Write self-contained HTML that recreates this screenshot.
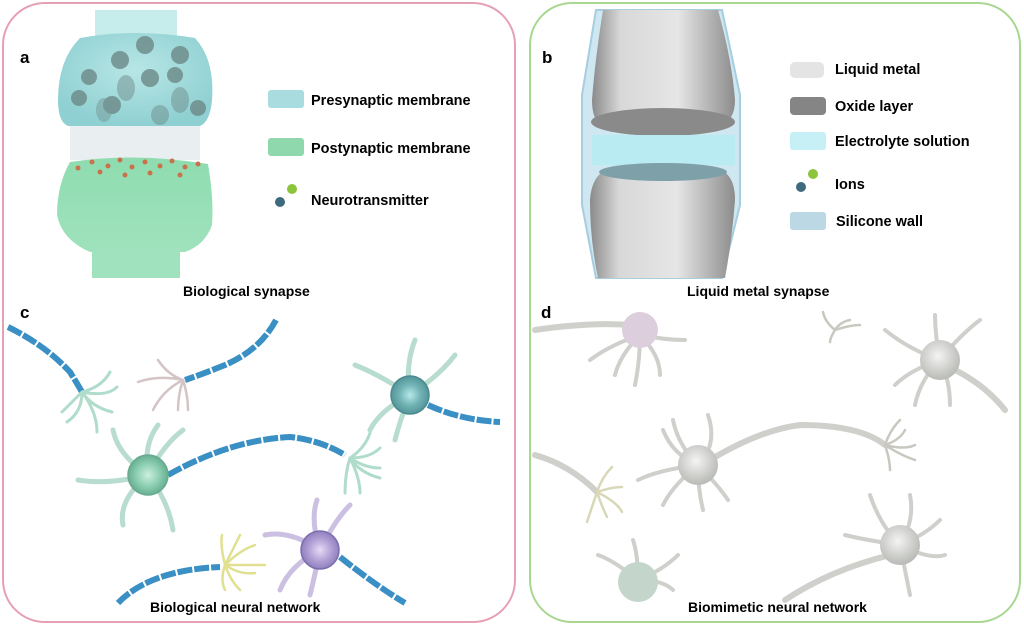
<!DOCTYPE html>
<html><head><style>
body{margin:0;background:#fff;width:1024px;height:630px;overflow:hidden;font-family:"Liberation Sans",Arial,sans-serif}
</style></head><body>
<svg width="1024" height="630" xmlns="http://www.w3.org/2000/svg" font-family="Liberation Sans, Arial, sans-serif" font-weight="bold">
<defs>
<radialGradient id="cyan" cx="50%" cy="40%" r="60%"><stop offset="0" stop-color="#b8e6e6"/><stop offset="1" stop-color="#8fd0d2"/></radialGradient>
<linearGradient id="grn" x1="0" y1="0" x2="0" y2="1"><stop offset="0" stop-color="#8fdcb0"/><stop offset="1" stop-color="#9fe2bd"/></linearGradient>
<linearGradient id="metal" x1="0" y1="0" x2="1" y2="0"><stop offset="0" stop-color="#8a8a8a"/><stop offset=".2" stop-color="#d8d8d8"/><stop offset=".6" stop-color="#e6e6e6"/><stop offset="1" stop-color="#8c8c8c"/></linearGradient>
<radialGradient id="soma" cx="50%" cy="50%" r="55%"><stop offset="0" stop-color="#cdeee0"/><stop offset=".5" stop-color="#8fd0b4"/><stop offset="1" stop-color="#5fa88a"/></radialGradient>
<radialGradient id="somaT" cx="50%" cy="50%" r="55%"><stop offset="0" stop-color="#b8e8e8"/><stop offset=".5" stop-color="#72b4b6"/><stop offset="1" stop-color="#4d8e92"/></radialGradient>
<radialGradient id="somaP" cx="50%" cy="50%" r="55%"><stop offset="0" stop-color="#e4dcf4"/><stop offset=".5" stop-color="#b4a4d8"/><stop offset="1" stop-color="#8878b8"/></radialGradient>
<radialGradient id="somaG" cx="45%" cy="40%" r="60%"><stop offset="0" stop-color="#f4f4f2"/><stop offset="1" stop-color="#b8bab6"/></radialGradient>
</defs>
<rect x="3" y="3" width="512" height="619" rx="42" fill="none" stroke="#e6a0b4" stroke-width="2"/>
<rect x="530" y="3" width="490" height="619" rx="42" fill="none" stroke="#a8d890" stroke-width="2"/>

<!-- panel a -->
<rect x="95" y="10" width="82" height="30" fill="#c6ecec"/>
<path d="M80 38 Q135 28 195 38 Q215 60 212 100 Q210 122 200 126 L68 126 Q58 122 58 100 Q58 60 80 38Z" fill="url(#cyan)"/>
<g fill="#6f8e8c" opacity=".85">
<circle cx="145" cy="45" r="9"/><circle cx="120" cy="60" r="9"/><circle cx="180" cy="55" r="9"/><circle cx="89" cy="77" r="8"/><circle cx="150" cy="78" r="9"/><circle cx="175" cy="75" r="8"/><circle cx="79" cy="98" r="8"/><circle cx="112" cy="105" r="9"/><circle cx="198" cy="108" r="8"/><ellipse cx="126" cy="88" rx="9" ry="13" opacity=".6"/><ellipse cx="180" cy="100" rx="9" ry="13" opacity=".6"/><ellipse cx="160" cy="115" rx="9" ry="10" opacity=".6"/><ellipse cx="104" cy="110" rx="8" ry="12" opacity=".5"/>
</g>
<rect x="70" y="126" width="130" height="34" fill="#e9eef0"/>
<path d="M70 162 Q135 152 208 164 Q214 200 212 225 Q205 245 185 252 L90 252 Q62 240 57 215 Q57 185 70 162Z" fill="url(#grn)"/>
<rect x="92" y="248" width="88" height="30" fill="#9fe2bd"/>
<g fill="#c8714a"><circle cx="78" cy="168" r="2.5"/><circle cx="92" cy="162" r="2.5"/><circle cx="108" cy="166" r="2.5"/><circle cx="120" cy="160" r="2.5"/><circle cx="132" cy="167" r="2.5"/><circle cx="145" cy="162" r="2.5"/><circle cx="160" cy="166" r="2.5"/><circle cx="172" cy="161" r="2.5"/><circle cx="185" cy="167" r="2.5"/><circle cx="198" cy="164" r="2.5"/><circle cx="100" cy="172" r="2.5"/><circle cx="150" cy="173" r="2.5"/><circle cx="180" cy="175" r="2.5"/><circle cx="125" cy="175" r="2.5"/></g>
<text x="20" y="63" font-size="17">a</text>
<rect x="268" y="90" width="36" height="18" rx="3" fill="#a8dcde"/>
<rect x="268" y="138" width="36" height="18" rx="3" fill="#8fd8ae"/>
<circle cx="292" cy="189" r="5" fill="#8cc43c"/><circle cx="280" cy="202" r="5" fill="#3e6a80"/>
<text x="311" y="105" font-size="14.5">Presynaptic membrane</text>
<text x="311" y="153" font-size="14.5">Postynaptic membrane</text>
<text x="311" y="205" font-size="14.5">Neurotransmitter</text>
<text x="183" y="296" font-size="14">Biological synapse</text>

<!-- panel b -->
<path d="M596 10 L722 10 L740 95 L740 205 L722 278 L596 278 L582 205 L582 95Z" fill="#cfe7f0" stroke="#a6cde0" stroke-width="2"/>
<path d="M603 10 L718 10 Q732 60 735 100 Q735 128 705 132 L612 132 Q592 128 592 100 Q595 60 603 10Z" fill="url(#metal)"/>
<ellipse cx="663" cy="122" rx="72" ry="14" fill="#8a8a8a"/>
<rect x="592" y="135" width="143" height="30" fill="#b8ecf2"/>
<path d="M612 168 L715 168 Q735 172 735 200 Q732 240 725 278 L598 278 Q590 240 590 200 Q592 172 612 168Z" fill="url(#metal)"/>
<ellipse cx="663" cy="172" rx="64" ry="9" fill="#7ea0a8"/>
<text x="542" y="63" font-size="17">b</text>
<rect x="790" y="62" width="34" height="16" rx="5" fill="#e4e4e4"/>
<rect x="790" y="97" width="36" height="18" rx="4" fill="#858585"/>
<rect x="790" y="132" width="36" height="18" rx="3" fill="#c6f0f6"/>
<circle cx="813" cy="174" r="5" fill="#8cc43c"/><circle cx="801" cy="187" r="5" fill="#3e6a80"/>
<rect x="790" y="212" width="36" height="18" rx="3" fill="#bcd8e4"/>
<text x="835" y="74" font-size="14.5">Liquid metal</text>
<text x="835" y="111" font-size="14.5">Oxide layer</text>
<text x="835" y="146" font-size="14.5">Electrolyte solution</text>
<text x="835" y="189" font-size="14.5">Ions</text>
<text x="836" y="226" font-size="14.5">Silicone wall</text>
<text x="687" y="296" font-size="14">Liquid metal synapse</text>

<!-- panel c -->
<text x="20" y="318" font-size="17">c</text>
<g stroke="#3a8fc4" stroke-width="6" fill="none" stroke-dasharray="15 2">
<path d="M8 327 Q45 345 70 372 Q78 385 82 392"/>
<path d="M276 320 Q260 350 225 365 Q200 375 185 380"/>
<path d="M168 475 Q230 440 290 437 Q320 440 345 455"/>
<path d="M428 405 Q460 420 500 422"/>
<path d="M118 603 Q150 570 220 567"/>
<path d="M340 557 Q375 585 405 603"/>
</g>
<g stroke="#b0dccc" stroke-width="3" fill="none" stroke-linecap="round">
<path d="M82 392 q20 -5 28 -20 M82 392 q25 5 35 -5 M82 392 q10 15 30 20 M82 392 q-10 10 -20 20 M82 392 q0 20 -15 30 M82 392 q15 20 15 40"/>
<path d="M350 458 q15 -10 20 -25 M350 458 q20 0 30 -10 M350 458 q15 10 30 10 M350 458 q10 15 30 20 M350 458 q-5 15 -5 35 M350 458 q10 20 10 35"/>
</g>
<g stroke="#d4c4c6" stroke-width="2.5" fill="none" stroke-linecap="round"><path d="M183 380 q-15 -5 -25 -20 M183 380 q-25 -5 -45 2 M183 380 q-20 10 -30 30 M183 380 q-5 15 -5 30 M183 380 q5 15 5 30"/></g>
<g stroke="#e0e090" stroke-width="2.5" fill="none" stroke-linecap="round"><path d="M225 565 q-5 -20 -3 -30 M225 565 q10 -20 15 -30 M225 565 q15 -15 30 -20 M225 565 q20 0 40 0 M225 565 q15 10 30 8 M225 565 q5 15 15 25 M225 565 q-5 15 0 25"/></g>
<g stroke="#b8dcd0" stroke-width="5" fill="none" stroke-linecap="round">
<path d="M148 475 q-30 -20 -35 -45 M148 475 q-5 -30 10 -50 M148 475 q15 -30 35 -45 M148 475 q-40 10 -70 5 M148 475 q-30 25 -25 50 M148 475 q20 25 25 55"/>
<path d="M410 395 q-30 -20 -55 -30 M410 395 q-5 -30 5 -55 M410 395 q30 -20 45 -40 M410 395 q-30 15 -40 35 M410 395 q-10 25 -15 45"/>
</g>
<g stroke="#cbc0e2" stroke-width="5" fill="none" stroke-linecap="round"><path d="M320 550 q-30 -20 -55 -15 M320 550 q-10 -30 -3 -50 M320 550 q15 -30 30 -45 M320 550 q-30 15 -40 40 M320 550 q-5 25 -10 45"/></g>
<circle cx="148" cy="475" r="20" fill="url(#soma)" stroke="#6aa890" stroke-width="1.5"/>
<circle cx="410" cy="395" r="19" fill="url(#somaT)" stroke="#4a8a90" stroke-width="1.5"/>
<circle cx="320" cy="550" r="19" fill="url(#somaP)" stroke="#7c6cb0" stroke-width="1.5"/>
<text x="150" y="612" font-size="14">Biological neural network</text>

<!-- panel d -->
<text x="541" y="318" font-size="17">d</text>
<g stroke="#cfd0cb" stroke-width="6" fill="none" stroke-linecap="round">
<path d="M535 330 Q590 322 630 325"/>
<path d="M710 460 Q760 430 800 425 Q860 425 885 445"/>
<path d="M535 455 Q570 465 597 492"/>
<path d="M955 370 Q985 385 1005 410"/>
<path d="M890 555 Q830 570 785 600"/>
</g>
<g stroke="#cfd0cb" stroke-width="4" fill="none" stroke-linecap="round">
<path d="M640 335 q-30 10 -50 25 M640 335 q-20 20 -25 40 M640 335 q0 25 -5 50 M640 335 q20 20 20 40 M640 335 q25 5 45 5"/>
<path d="M698 465 q-20 -20 -25 -45 M698 465 q20 -20 10 -50 M698 465 q-25 -10 -35 -35 M698 465 q-40 5 -60 15 M698 465 q-25 20 -35 40 M698 465 q0 25 5 45 M698 465 q20 20 30 35"/>
<path d="M940 360 q-30 -10 -55 -30 M940 360 q-5 -25 -5 -45 M940 360 q20 -25 40 -40 M940 360 q-30 10 -45 25 M940 360 q-20 20 -25 45 M940 360 q10 20 10 45"/>
<path d="M900 545 q-20 -20 -30 -50 M900 545 q15 -25 10 -50 M900 545 q25 -10 40 -25 M900 545 q-35 -5 -55 -10 M900 545 q30 15 45 10 M900 545 q5 25 10 50"/>
<path d="M638 580 q-25 -20 -40 -25 M638 580 q0 -25 -5 -40 M638 580 q25 -10 40 -25 M638 580 q25 0 35 10"/>
</g>
<g stroke="#c8c8c0" stroke-width="2.5" fill="none" stroke-linecap="round">
<path d="M885 445 q5 -15 15 -25 M885 445 q15 -5 20 -15 M885 445 q20 5 30 0 M885 445 q15 10 30 15 M885 445 q5 15 5 25"/>
<path d="M835 330 q-10 -8 -12 -18 M835 330 q5 -8 15 -10 M835 330 q15 -5 25 -5 M835 330 q-5 8 -5 12"/>
</g>
<g stroke="#d8d8b8" stroke-width="2.5" fill="none" stroke-linecap="round"><path d="M597 492 q5 -15 15 -25 M597 492 q15 -5 25 -5 M597 492 q20 10 25 20 M597 492 q5 15 10 25 M597 492 q-5 15 -10 30"/></g>
<circle cx="640" cy="330" r="18" fill="#dccedc"/>
<circle cx="698" cy="465" r="20" fill="url(#somaG)"/>
<circle cx="940" cy="360" r="20" fill="url(#somaG)"/>
<circle cx="900" cy="545" r="20" fill="url(#somaG)"/>
<circle cx="638" cy="582" r="20" fill="#c4d6cc"/>
<text x="688" y="612" font-size="14">Biomimetic neural network</text>
</svg>
</body></html>
